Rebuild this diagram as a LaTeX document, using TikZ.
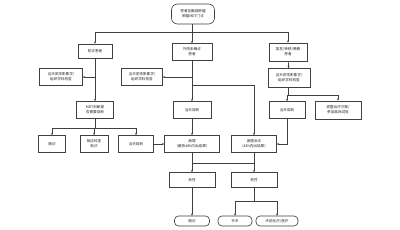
\documentclass[tikz,border=0pt]{standalone}
\usepackage{fontspec}
\setmainfont{Noto Sans CJK SC}
\usetikzlibrary{arrows.meta}
\begin{document}
\begin{tikzpicture}[x=1pt,y=-1pt,
  every node/.style={inner sep=0pt,font=\fontsize{3.6}{4.8}\selectfont,text=black!85,align=center},
  box/.style={draw=black!75,line width=0.65pt,minimum height=17pt},
  rbox/.style={draw=black!75,line width=0.65pt,rounded corners=4pt,minimum height=10pt},
  ln/.style={draw=black!75,line width=0.65pt},
  ar/.style={ln,-{Stealth[length=2.2pt,width=2pt]}}]
\useasboundingbox[fill=white] (0,0) rectangle (400,230);
% nodes
\node[box,rounded corners=6pt,minimum width=43pt,minimum height=20pt] (top) at (193,14) {患者至胸部肿瘤\\肿瘤MDT门诊};
\node[box,minimum width=34pt,minimum height=14pt] (n1) at (95,51) {初诊患者};
\node[box,minimum width=40pt] (n2) at (192,52) {外院未确诊\\患者};
\node[box,minimum width=38pt,minimum height=18pt] (n3) at (288,52) {复发/转移/晚期\\患者};
\node[box,minimum width=43pt] (a1) at (61,77) {当天安排影像学/\\组织学科检查};
\node[box,minimum width=41pt] (a2) at (142,77) {当天安排影像学/\\组织学科检查};
\node[box,minimum width=42pt,minimum height=19pt] (a3) at (289,78) {当天安排影像学/\\组织学科检查};
\node[box,minimum width=37pt] (mdt) at (95,110) {MDT判断是\\否需要穿刺};
\node[box,minimum width=38pt] (d2) at (192,110) {当天穿刺};
\node[box,minimum width=36pt] (d3) at (287,110) {当天穿刺};
\node[box,minimum width=46pt,minimum height=18pt] (adj) at (338,110) {调整治疗方案/\\参加临床试验};
\node[box,minimum width=27pt] (f1) at (52,144) {随访};
\node[box,minimum width=28pt] (s1) at (94,144) {相应科室\\就诊};
\node[box,minimum width=35pt] (d1) at (136,144) {当天穿刺};
\node[box,minimum width=55pt] (p1) at (192,144) {病理\\（最快48h内出结果）};
\node[box,minimum width=45pt] (p2) at (254,144) {病理会诊\\（48h内出结果）};
\node[box,minimum width=46pt,minimum height=15pt] (b1) at (192,180) {良性};
\node[box,minimum width=46pt,minimum height=15pt] (m1) at (254,180) {恶性};
\node[rbox,minimum width=35pt] (f2) at (192,221) {随访};
\node[rbox,minimum width=34pt] (op) at (235,221) {手术};
\node[rbox,minimum width=42pt] (ct) at (277,221) {术前化疗/放疗};
% junctions
\coordinate (j0) at (192,32);
\coordinate (j1) at (192,85);
\coordinate (j2) at (288,95);
\coordinate (j3) at (95,128);
\coordinate (j4) at (287,144);
\coordinate (j5) at (192,163);
\coordinate (j6) at (254,201);
% connectors
\draw[ln] (top.south -| j0) -- (j0);
\draw[ln] (n1.north |- j0) -- (n3.north |- j0);
\draw[ar] (n1.north |- j0) -- (n1.north);
\draw[ar] (j0) -- (n2.north);
\draw[ar] (n3.north |- j0) -- (n3.north);
\draw[ar] (n1) -- (mdt);
\draw[ar] (n1.south |- a1.east) -- (a1.east);
\draw[ar] (n2) -- (d2);
\draw[ar] (n2.south |- a2.east) -- (a2.east);
\draw[ar] (j1) -| (p2.north);
\draw[ar] (n3) -- (a3);
\draw[ln] (a3.south -| j2) -- (j2);
\draw[ar] (j2) -| (d3.north);
\draw[ar] (j2) -| (adj.north);
\draw[ar] (d3.south) -- (j4) -- (p2.east);
\draw[ln] (mdt) -- (j3);
\draw[ar] (j3) -| (f1.north);
\draw[ar] (j3) -| (s1.north);
\draw[ar] (j3) -| (d1.north);
\draw[ar] (d1) -- (p1);
\draw[ar] (d2) -- (p1);
\draw[ar] (p1) -- (b1);
\draw[ar] (p2) -- (m1);
\draw[ln] (j5) -- (j5 -| p2.south);
\draw[ar] (b1) -- (f2);
\draw[ln] (m1) -- (j6);
\draw[ar] (j6) -| (op.north);
\draw[ar] (j6) -| (ct.north);
\end{tikzpicture}
\end{document}
